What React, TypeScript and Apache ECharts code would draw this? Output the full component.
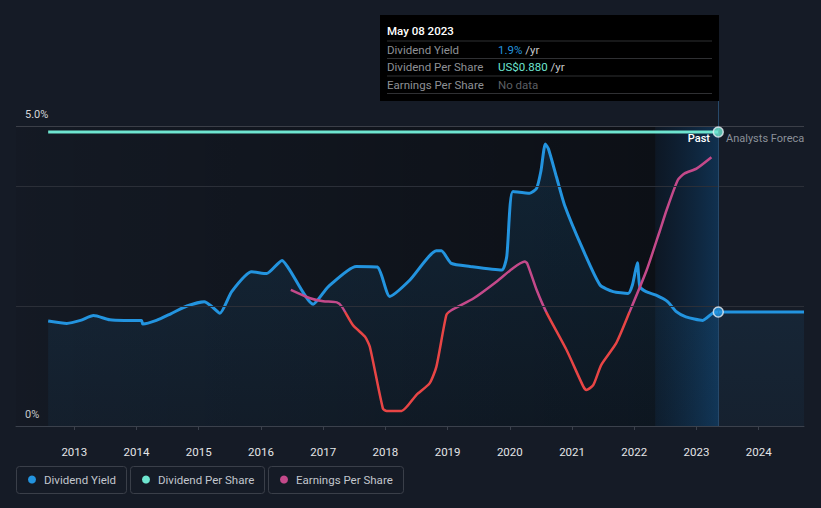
import React, { useEffect, useRef } from "react";
import * as echarts from "echarts";

const yearTicks = [2013, 2014, 2015, 2016, 2017, 2018, 2019, 2020, 2021, 2022, 2023, 2024];
const gridValues = [2, 4];

const yieldDates = [
  2012.58, 2012.88, 2013.1, 2013.31, 2013.57, 2013.8, 2014.08, 2014.1, 2014.32, 2014.55,
  2014.81, 2015.09, 2015.2, 2015.34, 2015.53, 2015.85, 2016.09, 2016.34, 2016.45, 2016.84,
  2017.08, 2017.53, 2017.87, 2018.07, 2018.39, 2018.82, 2018.9, 2019.06, 2019.36, 2019.87,
  2019.95, 2020.05, 2020.32, 2020.43, 2020.5, 2020.57, 2020.62, 2020.75, 2020.88, 2021.18,
  2021.45, 2021.66, 2021.9, 2021.97, 2022.05, 2022.09, 2022.19, 2022.35, 2022.54, 2022.67,
  2022.83, 2023.1, 2023.26, 2023.35, 2024.728,
];
const yieldValues = [
  1.75, 1.71, 1.76, 1.84, 1.77, 1.76, 1.76, 1.7, 1.76, 1.87,
  2.0, 2.07, 2.0, 1.88, 2.24, 2.57, 2.54, 2.76, 2.62, 2.03,
  2.32, 2.66, 2.65, 2.16, 2.43, 2.92, 2.92, 2.71, 2.66, 2.6,
  2.82, 3.91, 3.88, 3.96, 4.25, 4.7, 4.62, 4.15, 3.68, 2.93,
  2.35, 2.24, 2.21, 2.35, 2.72, 2.32, 2.24, 2.18, 2.07, 1.91,
  1.82, 1.76, 1.88, 1.9, 1.9,
];

const epsDates = [
  2016.48, 2016.79, 2017.0, 2017.22, 2017.3, 2017.48, 2017.67, 2017.75, 2017.96, 2018.02,
  2018.26, 2018.5, 2018.71, 2018.82, 2018.98, 2019.06, 2019.42, 2019.79, 2020.05, 2020.24,
  2020.28, 2020.43, 2020.59, 2020.91, 2021.18, 2021.23, 2021.34, 2021.47, 2021.71, 2021.92,
  2022.2, 2022.41, 2022.52, 2022.7, 2022.81, 2023.0, 2023.24,
];
const epsValues = [
  2.27, 2.13, 2.08, 2.06, 1.99, 1.68, 1.49, 1.32, 0.29, 0.25,
  0.25, 0.52, 0.71, 0.99, 1.85, 1.93, 2.13, 2.41, 2.63, 2.74,
  2.71, 2.27, 1.89, 1.27, 0.66, 0.6, 0.68, 1.02, 1.38, 1.89,
  2.6, 3.25, 3.6, 4.1, 4.21, 4.29, 4.48,
];
const epsThreshold = 1.9;

const dpsDates = [2012.58, 2023.35];
const dpsValues = [0.88, 0.88];

const cursorDate = 2023.35;
const cursorYield = 1.9;
const cursorDps = 0.88;
const forecastStart = 2022.34;

const tooltipTitle = "May 08 2023";
const tooltipLabels = ["Dividend Yield", "Dividend Per Share", "Earnings Per Share"];
const tooltipValues = ["1.9%", "US$0.880", "No data"];
const tooltipSuffix = [" /yr", " /yr", ""];

const legendNames = ["Dividend Yield", "Dividend Per Share", "Earnings Per Share"];

const BLUE = "#2394df";
const TEAL = "#6ee5d0";
const MAGENTA = "#c4498a";
const RED = "#e84545";
const BG = "#151b26";
const FONT = "Roboto, 'Noto Sans', sans-serif";

const Y_MAX = 5.41667;
const GRID_TOP = 101;
const GRID_BOTTOM_PX = 426;

const zip = (a: number[], b: number[]) => a.map((x, i) => [x, b[i]]);

export default function App() {
  const ref = useRef<HTMLDivElement>(null);
  useEffect(() => {
    if (!ref.current) return;
    document.body.style.margin = "0";
    const chart = echarts.init(ref.current, null, { renderer: "svg" });

    const legendBoxes = [
      { x: 16, w: 110 },
      { x: 130, w: 134 },
      { x: 268, w: 135 },
    ];
    const legendColors = [BLUE, TEAL, MAGENTA];
    const legendGraphic: any[] = [];
    legendNames.forEach((name, i) => {
      const b = legendBoxes[i];
      legendGraphic.push({
        type: "rect",
        shape: { x: b.x + 0.5, y: 466.5, width: b.w, height: 27, r: 3 },
        style: { fill: "transparent", stroke: "#3a3f49", lineWidth: 1 },
      });
      legendGraphic.push({
        type: "circle",
        shape: { cx: b.x + 16, cy: 479.5, r: 4 },
        style: { fill: legendColors[i] },
      });
      legendGraphic.push({
        type: "text",
        x: b.x + 28,
        y: 480,
        style: {
          text: name,
          fill: "#c2c6cd",
          font: `11.5px ${FONT}`,
          verticalAlign: "middle",
        },
      });
    });

    const rowY = [49.5, 67, 84.5];
    const sepY = [41, 58.5, 76, 93.5];
    const valueColors = [BLUE, TEAL, "#5c5f63"];
    const tooltipGraphic: any[] = [
      {
        type: "rect",
        shape: { x: 380, y: 15, width: 339, height: 86 },
        style: { fill: "#000000" },
      },
      {
        type: "text",
        x: 387,
        y: 31,
        style: {
          text: tooltipTitle,
          fill: "#ffffff",
          font: `500 11.5px ${FONT}`,
          verticalAlign: "middle",
        },
      },
      ...sepY.map((y) => ({
        type: "line",
        shape: { x1: 387, y1: y, x2: 712, y2: y },
        style: { stroke: "#2f3033", lineWidth: 1 },
      })),
      ...tooltipLabels.map((t, i) => ({
        type: "text",
        x: 387,
        y: rowY[i],
        style: {
          text: t,
          fill: "#8e9095",
          font: `11.5px ${FONT}`,
          verticalAlign: "middle",
        },
      })),
      ...tooltipValues.map((t, i) => ({
        type: "text",
        x: 498,
        y: rowY[i],
        style: {
          text: tooltipSuffix[i] ? `{v|${t}}{s|${tooltipSuffix[i]}}` : `{v|${t}}`,
          verticalAlign: "middle",
          rich: {
            v: { fill: valueColors[i], font: `11.5px ${FONT}` },
            s: { fill: "#c8c9cc", font: `11.5px ${FONT}` },
          },
        },
      })),
    ];

    const darkGrad = new echarts.graphic.LinearGradient(0, 0, 1, 0, [
      { offset: 0, color: "rgba(0,0,0,0.06)" },
      { offset: 1, color: "rgba(0,0,0,0.42)" },
    ]);
    const bandGrad = new echarts.graphic.LinearGradient(0, 0, 1, 0, [
      { offset: 0, color: "rgba(10,22,36,0.7)" },
      { offset: 1, color: "rgba(16,50,82,0.95)" },
    ]);
    const thresholdPx = GRID_BOTTOM_PX - (epsThreshold / Y_MAX) * (GRID_BOTTOM_PX - GRID_TOP);
    const off = (thresholdPx - GRID_TOP) / (GRID_BOTTOM_PX - GRID_TOP);
    const epsGrad = new echarts.graphic.LinearGradient(
      0,
      GRID_TOP,
      0,
      GRID_BOTTOM_PX,
      [
        { offset: 0, color: MAGENTA },
        { offset: off, color: MAGENTA },
        { offset: off, color: RED },
        { offset: 1, color: RED },
      ],
      true
    );

    chart.setOption({
      animation: false,
      backgroundColor: BG,
      textStyle: { fontFamily: FONT },
      grid: { left: 16, right: 17, top: GRID_TOP, bottom: 508 - GRID_BOTTOM_PX },
      xAxis: {
        type: "value",
        min: 2012.063,
        max: 2024.728,
        axisLine: { show: true, lineStyle: { color: "#3b414c", width: 1 } },
        axisTick: {
          show: true,
          customValues: yearTicks,
          length: 4,
          lineStyle: { color: "#3b414c" },
        },
        axisLabel: {
          customValues: yearTicks,
          color: "#e4e5e7",
          fontSize: 11.5,
          margin: 20,
          formatter: (v: number) => String(Math.round(v)),
        },
        splitLine: { show: false },
      },
      yAxis: [
        {
          type: "value",
          min: 0,
          max: Y_MAX,
          interval: 5,
          axisLine: { show: false },
          axisTick: { show: false },
          splitLine: { show: false },
          axisLabel: {
            inside: true,
            margin: 9,
            color: "#d6d7da",
            fontSize: 11,
            verticalAlign: "bottom",
            padding: [0, 0, 6, 0],
            formatter: (v: number) => (v === 5 ? "5.0%" : v === 0 ? "0%" : ""),
          },
        },
        { type: "value", min: 0, max: Y_MAX, show: false },
        { type: "value", min: 0, max: 0.9728, show: false },
      ],
      series: [
        {
          type: "line",
          data: [[2012.063, 0]],
          silent: true,
          showSymbol: false,
          symbol: "none",
          lineStyle: { opacity: 0 },
          z: 1,
          markArea: {
            silent: true,
            data: [
              [
                { xAxis: 2012.063, yAxis: 0, itemStyle: { color: darkGrad } },
                { xAxis: forecastStart, yAxis: 5 },
              ],
              [
                { xAxis: forecastStart, yAxis: 0, itemStyle: { color: bandGrad } },
                { xAxis: cursorDate, yAxis: 5 },
              ],
            ],
          },
          markLine: {
            silent: true,
            symbol: "none",
            label: { show: false },
            data: [
              ...gridValues.map((v) => ({ yAxis: v, lineStyle: { color: "#2b2f38", width: 1, type: "solid" } })),
              { yAxis: 5, lineStyle: { color: "#3b3f48", width: 1, type: "solid" } },
              { xAxis: cursorDate, lineStyle: { color: "#27496a", width: 1, type: "solid" } },
            ],
          },
        },
        {
          name: "Dividend Yield",
          type: "line",
          data: zip(yieldDates, yieldValues),
          showSymbol: false,
          smooth: 0.2,
          z: 3,
          lineStyle: { color: BLUE, width: 3 },
          itemStyle: { color: BLUE },
          areaStyle: {
            color: new echarts.graphic.LinearGradient(0, 0, 0, 1, [
              { offset: 0, color: "rgba(35,148,223,0.2)" },
              { offset: 1, color: "rgba(35,148,223,0.07)" },
            ]),
          },
        },
        {
          name: "Dividend Per Share",
          type: "line",
          yAxisIndex: 2,
          data: zip(dpsDates, dpsValues),
          showSymbol: false,
          z: 4,
          lineStyle: { color: TEAL, width: 3 },
          itemStyle: { color: TEAL },
        },
        {
          name: "Earnings Per Share",
          type: "line",
          yAxisIndex: 1,
          data: zip(epsDates, epsValues),
          showSymbol: false,
          smooth: 0.2,
          z: 4,
          lineStyle: { width: 2.5, color: epsGrad },
          itemStyle: { color: MAGENTA },
        },
        {
          type: "scatter",
          data: [[cursorDate, cursorYield]],
          symbolSize: 10,
          z: 6,
          itemStyle: { color: BLUE, borderColor: "#e8eef4", borderWidth: 1.5 },
        },
        {
          type: "scatter",
          yAxisIndex: 2,
          data: [[cursorDate, cursorDps]],
          symbolSize: 10,
          z: 6,
          itemStyle: { color: TEAL, borderColor: "#e8eef4", borderWidth: 1.5 },
        },
      ],
      graphic: [
        ...tooltipGraphic,
        {
          type: "text",
          x: 710,
          y: 138.5,
          z: 10,
          style: {
            text: "Past",
            fill: "#ffffff",
            font: `500 11px ${FONT}`,
            align: "right",
            verticalAlign: "middle",
          },
        },
        {
          type: "text",
          x: 726,
          y: 138.5,
          z: 10,
          style: {
            text: "Analysts Forecast",
            fill: "#8b9099",
            font: `11px ${FONT}`,
            verticalAlign: "middle",
            width: 83,
            overflow: "truncate",
            ellipsis: "",
          },
        },
        ...legendGraphic,
      ],
    });
    return () => chart.dispose();
  }, []);
  return (
    <div
      ref={ref}
      style={{ position: "fixed", left: 0, top: 0, width: 821, height: 508, background: BG }}
    />
  );
}
